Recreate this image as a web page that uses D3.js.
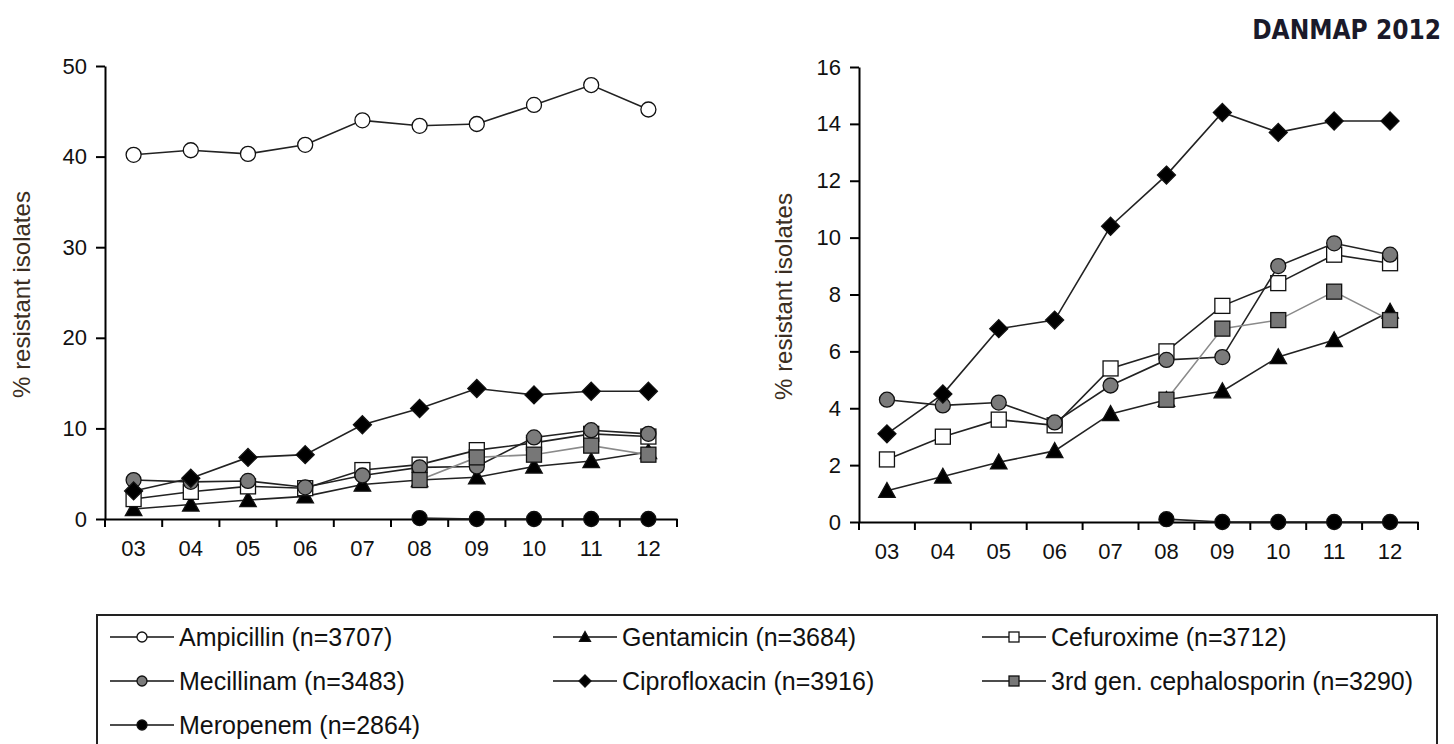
<!DOCTYPE html>
<html lang="en">
<head>
<meta charset="UTF-8">
<title>DANMAP 2012</title>
<script src="https://cdn.jsdelivr.net/npm/d3@7"></script>
<style>
  body { margin: 0; background: #fff; }
  svg text { font-family: "Liberation Sans", Arial, sans-serif; fill: #111; }
</style>
</head>
<body>
<svg id="chart" width="1454" height="744"></svg>
<script>
// years on the x axis
const years = ["03", "04", "05", "06", "07", "08", "09", "10", "11", "12"];

// % resistant isolates per year
const ampicillin    = [40.2, 40.7, 40.3, 41.3, 44.0, 43.4, 43.6, 45.7, 47.9, 45.2];
const gentamicin    = [1.1, 1.6, 2.1, 2.5, 3.8, 4.3, 4.6, 5.8, 6.4, 7.4];
const cefuroxime    = [2.2, 3.0, 3.6, 3.4, 5.4, 6.0, 7.6, 8.4, 9.4, 9.1];
const mecillinam    = [4.3, 4.1, 4.2, 3.5, 4.8, 5.7, 5.8, 9.0, 9.8, 9.4];
const ciprofloxacin = [3.1, 4.5, 6.8, 7.1, 10.4, 12.2, 14.4, 13.7, 14.1, 14.1];
const cephalosporin = [null, null, null, null, null, 4.3, 6.8, 7.1, 8.1, 7.1];
const meropenem     = [null, null, null, null, null, 0.1, 0.0, 0.0, 0.0, 0.0];

const leftTicks  = [0, 10, 20, 30, 40, 50];
const rightTicks = [0, 2, 4, 6, 8, 10, 12, 14, 16];

const seriesNames = [
  "Ampicillin (n=3707)", "Gentamicin (n=3684)", "Cefuroxime (n=3712)",
  "Mecillinam (n=3483)", "Ciprofloxacin (n=3916)", "3rd gen. cephalosporin (n=3290)",
  "Meropenem (n=2864)"
];

// marker style per series
const styles = {
  "Ampicillin (n=3707)":             { values: ampicillin,    shape: "circle",   fill: "#fff",    line: "#222" },
  "Gentamicin (n=3684)":             { values: gentamicin,    shape: "triangle", fill: "#000",    line: "#222" },
  "Cefuroxime (n=3712)":             { values: cefuroxime,    shape: "square",   fill: "#fff",    line: "#222" },
  "Mecillinam (n=3483)":             { values: mecillinam,    shape: "circle",   fill: "#7b7b7b", line: "#222" },
  "3rd gen. cephalosporin (n=3290)": { values: cephalosporin, shape: "square",   fill: "#777",    line: "#8a8a8a" },
  "Ciprofloxacin (n=3916)":          { values: ciprofloxacin, shape: "diamond",  fill: "#000",    line: "#222" },
  "Meropenem (n=2864)":              { values: meropenem,     shape: "circle",   fill: "#000",    line: "#222" }
};
// order in which the series are painted
const drawOrder = [
  "Ampicillin (n=3707)", "Gentamicin (n=3684)", "Cefuroxime (n=3712)", "Mecillinam (n=3483)",
  "3rd gen. cephalosporin (n=3290)", "Ciprofloxacin (n=3916)", "Meropenem (n=2864)"
];

const svg = d3.select("#chart");

// draws one marker centred at 0,0 with size s (half width)
function marker(g, shape, s, fill) {
  let el;
  if (shape === "circle") {
    el = g.append("circle").attr("r", s);
  } else if (shape === "square") {
    el = g.append("rect").attr("x", -s).attr("y", -s).attr("width", 2 * s).attr("height", 2 * s);
  } else if (shape === "diamond") {
    const d = s * 1.2;
    el = g.append("path").attr("d", `M0,${-d}L${d},0L0,${d}L${-d},0Z`);
  } else {
    const d = s * 1.1;
    el = g.append("path").attr("d", `M0,${-d}L${d},${d * 0.8}L${-d},${d * 0.8}Z`);
  }
  el.attr("fill", fill).attr("stroke", "#111").attr("stroke-width", 1.3);
}

function panel(opts) {
  const x = d3.scaleBand().domain(years).range([opts.x0, opts.x1]);
  const y = d3.scaleLinear().domain([0, opts.max]).range([opts.y0, opts.y1]);

  const ya = svg.append("g").attr("transform", `translate(${opts.x0},0)`)
    .call(d3.axisLeft(y).tickValues(opts.ticks).tickSize(9).tickSizeOuter(0).tickPadding(9));
  const xa = svg.append("g").attr("transform", `translate(0,${opts.y0})`)
    .call(d3.axisBottom(x).tickSize(0).tickPadding(21));
  [ya, xa].forEach(a => {
    a.select(".domain").attr("stroke", "#000").attr("stroke-width", 2);
    a.selectAll(".tick line").attr("stroke", "#000").attr("stroke-width", 2);
    a.selectAll("text").attr("font-size", 22).attr("fill", "#111")
      .style("font-family", "'Liberation Sans', Arial, sans-serif");
  });
  // x ticks sit on the band edges
  xa.selectAll(".edge").data(d3.range(years.length + 1)).enter().append("line")
    .attr("x1", i => opts.x0 + i * x.step()).attr("x2", i => opts.x0 + i * x.step())
    .attr("y1", 0).attr("y2", 8).attr("stroke", "#000").attr("stroke-width", 2);

  svg.append("text")
    .attr("transform", `translate(${opts.labelX},${(opts.y0 + opts.y1) / 2 + 2}) rotate(-90)`)
    .attr("text-anchor", "middle")
    .attr("font-size", 24)
    .style("fill", "#3b2e22")
    .text("% resistant isolates");

  const line = d3.line()
    .defined(d => d.v !== null)
    .x(d => x(d.year) + x.bandwidth() / 2)
    .y(d => y(d.v));

  drawOrder.filter(n => opts.series.includes(n)).forEach(name => {
    const st = styles[name];
    const pts = years.map((yr, i) => ({ year: yr, v: st.values[i] }));
    svg.append("path").datum(pts)
      .attr("fill", "none").attr("stroke", st.line).attr("stroke-width", 1.6)
      .attr("d", line);
    pts.filter(p => p.v !== null).forEach(p => {
      const g = svg.append("g")
        .attr("transform", `translate(${x(p.year) + x.bandwidth() / 2},${y(p.v)})`);
      marker(g, st.shape, 7.5, st.fill);
    });
  });
}

panel({ x0: 105, x1: 677, y0: 519, y1: 66, max: 50, ticks: leftTicks, labelX: 30,
        series: drawOrder });
panel({ x0: 859, x1: 1418, y0: 522, y1: 67, max: 16, ticks: rightTicks, labelX: 792,
        series: drawOrder.filter(n => n !== "Ampicillin (n=3707)") });

// title
svg.append("text")
  .attr("x", 1441).attr("y", 39)
  .attr("text-anchor", "end")
  .attr("font-size", 26)
  .attr("font-weight", "bold")
  .style("font-family", "'DejaVu Sans Condensed', 'DejaVu Sans', sans-serif")
  .style("font-stretch", "condensed")
  .style("fill", "#1a1a2a")
  .text("DANMAP 2012");

// legend box
const legend = svg.append("g");
legend.append("rect")
  .attr("x", 97).attr("y", 615).attr("width", 1340).attr("height", 150)
  .attr("fill", "#fff").attr("stroke", "#222").attr("stroke-width", 2);

const legCols = [110, 553, 982];
const legRows = [637, 681, 725];
seriesNames.forEach((name, i) => {
  const st = styles[name];
  const cx = legCols[i % 3], cy = legRows[Math.floor(i / 3)];
  legend.append("line")
    .attr("x1", cx).attr("x2", cx + 64).attr("y1", cy).attr("y2", cy)
    .attr("stroke", "#111").attr("stroke-width", 1.6);
  const g = legend.append("g").attr("transform", `translate(${cx + 32},${cy})`);
  marker(g, st.shape, 5, st.fill);
  legend.append("text")
    .attr("x", cx + 69).attr("y", cy + 9)
    .attr("font-size", 25)
    .text(name);
});
</script>
</body>
</html>
